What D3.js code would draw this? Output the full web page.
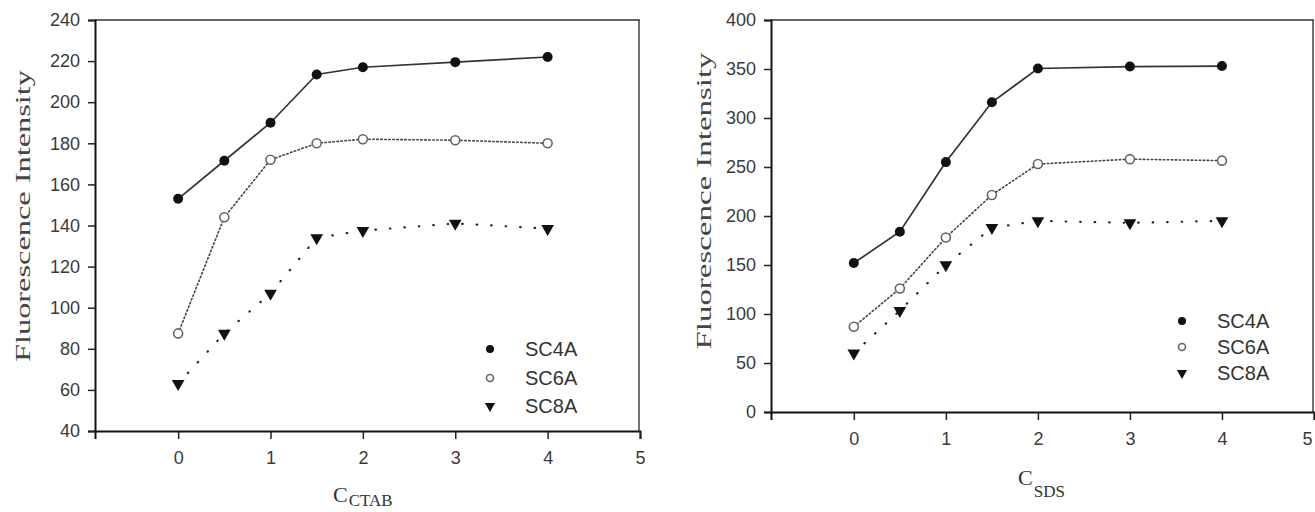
<!DOCTYPE html>
<html lang="en">
<head>
  <meta charset="utf-8">
  <title>Fluorescence Intensity vs surfactant</title>
  <script src="https://d3js.org/d3.v7.min.js"></script>
  <style>
    body { margin: 0; background: #fff; }
    svg { display: block; }
    .tick text { font-family: "Liberation Sans", Arial, sans-serif; font-size: 18px; fill: #3a3a3a; }
    .tick line { stroke: #222; stroke-width: 1.5; }
    .domain { stroke: #111; stroke-width: 2; }
  </style>
</head>
<body>
<script>
// concentrations along the x axis
var conc = [0, 0.5, 1, 1.5, 2, 3, 4];
var seriesNames = ["SC4A", "SC6A", "SC8A"];

// left panel: CTAB
var ctabSC4A = [153, 171.5, 190, 213.5, 217, 219.5, 222];
var ctabSC6A = [87.5, 144, 172, 180, 182, 181.5, 180];
var ctabSC8A = [63, 87.5, 107, 134, 137.5, 141, 138.5];

// right panel: SDS
var sdsSC4A = [152, 184, 255, 316, 350.5, 352.5, 353];
var sdsSC6A = [87, 126, 178, 221.5, 253, 258, 256.5];
var sdsSC8A = [60, 103.5, 150, 188, 195, 193, 195];

var xTicks = [0, 1, 2, 3, 4, 5];
var ctabYTicks = [40, 60, 80, 100, 120, 140, 160, 180, 200, 220, 240];
var sdsYTicks = [0, 50, 100, 150, 200, 250, 300, 350, 400];

var W = 1315, H = 512;
var svg = d3.select("body").append("svg").attr("width", W).attr("height", H);

// line + marker styles for the three series
var styles = {
  SC4A: { dash: null, width: 1.7, color: "#333" },
  SC6A: { dash: "1.5,2.5", width: 1.6, color: "#444" },
  SC8A: { dash: "0.5,14", width: 2.2, color: "#222" }
};

function drawMarker(g, name, x, y, big) {
  if (name == "SC4A") {
    g.append("circle").attr("cx", x).attr("cy", y).attr("r", big ? 5 : 4).attr("fill", "#111");
  } else if (name == "SC6A") {
    g.append("circle").attr("cx", x).attr("cy", y).attr("r", big ? 4.5 : 3.5)
      .attr("fill", "#fff").attr("stroke", "#666").attr("stroke-width", 1.6);
  } else {
    g.append("path")
      .attr("d", d3.symbol().type(d3.symbolTriangle).size(big ? 70 : 45)())
      .attr("transform", "translate(" + x + "," + y + ") rotate(180)")
      .attr("fill", "#111");
  }
}

function drawPanel(p) {
  var x = d3.scaleLinear().domain([-0.9, 5]).range([p.left, p.right]);
  var y = d3.scaleLinear().domain(p.yDomain).range([p.bottom, p.top]);
  var g = svg.append("g");

  // frame (top and right)
  g.append("line").attr("x1", p.left).attr("x2", p.right).attr("y1", p.top).attr("y2", p.top)
    .attr("stroke", "#333").attr("stroke-width", 1.5);
  g.append("line").attr("x1", p.right - 1).attr("x2", p.right - 1).attr("y1", p.top).attr("y2", p.bottom)
    .attr("stroke", "#444").attr("stroke-width", 1.5);

  var xAxis = g.append("g").attr("transform", "translate(0," + p.bottom + ")")
    .call(d3.axisBottom(x).tickValues(xTicks).tickSize(8).tickPadding(12).tickFormat(d3.format("d")));
  if (p.lastTickEnd) {
    // last label sits on the window edge; keep it inside
    xAxis.selectAll(".tick text").filter(function(d) { return d == 5; })
      .attr("text-anchor", "end").attr("dx", -2);
  }
  g.append("g").attr("transform", "translate(" + p.left + ",0)")
    .call(d3.axisLeft(y).tickValues(p.yTicks).tickSize(7).tickPadding(8).tickFormat(d3.format("d")));

  var line = d3.line().x(function(d) { return x(d[0]); }).y(function(d) { return y(d[1]); });

  seriesNames.forEach(function(name, i) {
    var pts = conc.map(function(c, j) { return [c, p.values[i][j]]; });
    var st = styles[name];
    g.append("path").datum(pts).attr("d", line)
      .attr("fill", "none").attr("stroke", st.color).attr("stroke-width", st.width)
      .attr("stroke-dasharray", st.dash).attr("stroke-linecap", "round");
    pts.forEach(function(d) { drawMarker(g, name, x(d[0]), y(d[1]), true); });

    // legend
    var ly = p.legendY[i];
    drawMarker(g, name, p.legendX, ly, false);
    g.append("text").attr("x", p.legendX + 35).attr("y", ly + 7)
      .attr("font-family", "'Liberation Sans', Arial, sans-serif").attr("font-size", 20)
      .attr("fill", "#333").text(name);
  });

  // y label, stretched along its baseline like the scan
  g.append("text")
    .attr("transform", "translate(" + p.yLabelX + "," + p.yLabelY + ") rotate(-90)")
    .attr("text-anchor", "middle")
    .attr("font-family", "'Liberation Serif', 'Times New Roman', serif")
    .attr("font-size", 21).attr("fill", "#444")
    .attr("textLength", p.yLabelLen).attr("lengthAdjust", "spacingAndGlyphs")
    .text("Fluorescence Intensity");

  // x label with subscript
  var xl = g.append("text")
    .attr("x", p.xLabelX).attr("y", p.xLabelY)
    .attr("font-family", "'Liberation Serif', 'Times New Roman', serif")
    .attr("fill", "#333");
  xl.append("tspan").attr("font-size", 22).text("C");
  xl.append("tspan").attr("font-size", 17).attr("dy", p.subDy).attr("dx", 1).text(p.sub);
}

drawPanel({
  left: 95, right: 640, top: 20, bottom: 431,
  yDomain: [40, 240], yTicks: ctabYTicks,
  values: [ctabSC4A, ctabSC6A, ctabSC8A],
  legendX: 490, legendY: [349, 378, 406],
  yLabelX: 30, yLabelY: 216, yLabelLen: 292,
  xLabelX: 333, xLabelY: 502, sub: "CTAB", subDy: 4, lastTickEnd: false
});

drawPanel({
  left: 771, right: 1314, top: 20, bottom: 412,
  yDomain: [0, 400], yTicks: sdsYTicks,
  values: [sdsSC4A, sdsSC6A, sdsSC8A],
  legendX: 1182, legendY: [321, 347, 373],
  yLabelX: 711, yLabelY: 201, yLabelLen: 297,
  xLabelX: 1018, xLabelY: 485, sub: "SDS", subDy: 12, lastTickEnd: true
});
</script>
</body>
</html>
